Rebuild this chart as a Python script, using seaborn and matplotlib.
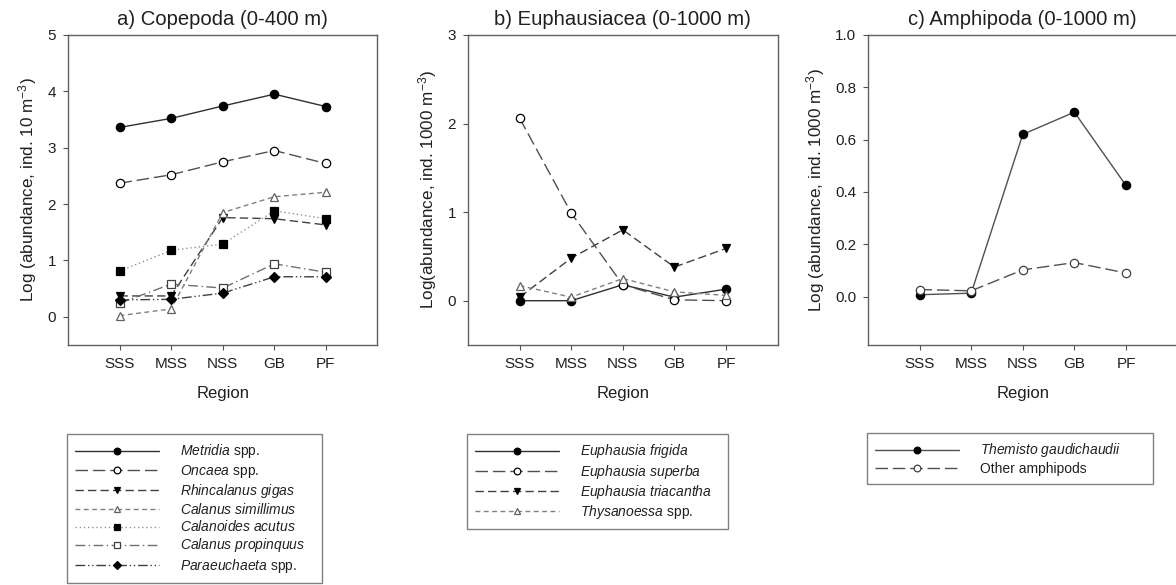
import numpy as np
import pandas as pd
import matplotlib
matplotlib.use("Agg")
import matplotlib.pyplot as plt
import seaborn as sns

# ---------------- data ----------------
regions = ["SSS", "MSS", "NSS", "GB", "PF"]

# a) Copepoda (0-400 m)
metridia = [3.36, 3.52, 3.74, 3.95, 3.73]
oncaea = [2.37, 2.52, 2.75, 2.95, 2.72]
rhincalanus = [0.37, 0.37, 1.76, 1.74, 1.63]
calanus_simillimus = [0.02, 0.14, 1.85, 2.13, 2.21]
calanoides = [0.81, 1.18, 1.29, 1.88, 1.74]
calanus_propinquus = [0.24, 0.58, 0.51, 0.94, 0.79]
paraeuchaeta = [0.30, 0.31, 0.42, 0.71, 0.71]

# b) Euphausiacea (0-1000 m)
e_frigida = [0.00, 0.00, 0.18, 0.04, 0.13]
e_superba = [2.06, 0.99, 0.18, 0.01, 0.00]
e_triacantha = [0.04, 0.48, 0.80, 0.38, 0.59]
thysanoessa = [0.17, 0.04, 0.25, 0.10, 0.06]

# c) Amphipoda (0-1000 m)
themisto = [0.007, 0.013, 0.62, 0.705, 0.425]
other_amph = [0.027, 0.022, 0.102, 0.13, 0.09]

titles = ["a) Copepoda (0-400 m)", "b) Euphausiacea (0-1000 m)", "c) Amphipoda (0-1000 m)"]
ylabels = [r"Log (abundance, ind. 10 m$^{-3}$)",
           r"Log(abundance, ind. 1000 m$^{-3}$)",
           r"Log (abundance, ind. 1000 m$^{-3}$)"]

# ---------------- style ----------------
sns.set_theme(style="white")
plt.rcParams["font.family"] = ["Liberation Sans", "DejaVu Sans"]
plt.rcParams["mathtext.fontset"] = "custom"
plt.rcParams["mathtext.rm"] = "Liberation Sans"
plt.rcParams["mathtext.it"] = "Liberation Sans:italic"
plt.rcParams["mathtext.default"] = "rm"

fig = plt.figure(figsize=(11.76, 5.85), dpi=100)
fig.patch.set_facecolor("white")

axw, axh = 0.2632, 0.5299
bottom = 0.4103
lefts = [0.0578, 0.398, 0.7381]
axes = [fig.add_axes([l, bottom, axw, axh]) for l in lefts]

LONG = (0, (9, 3.5))
MED = (0, (6, 3))
SHORT = (0, (3.5, 2.5))
DOT = (0, (1, 2))
DASHDOT = (0, (7, 2.5, 1, 2.5))
DASHDOTDOT = (0, (7, 2, 1, 2, 1, 2))


def draw(ax, values, label, ls, marker, mfc, color="#404040", mec="black", ms=6):
    df = pd.DataFrame({"Region": regions, "val": values})
    sns.lineplot(data=df, x="Region", y="val", ax=ax, sort=False, label=label,
                 color=color, linestyle=ls, linewidth=1.0, marker=marker,
                 markersize=ms, markerfacecolor=mfc, markeredgecolor=mec,
                 markeredgewidth=0.9)


ax = axes[0]
draw(ax, metridia, r"$\it{Metridia}$ spp.", "-", "o", "black", color="#303030")
draw(ax, oncaea, r"$\it{Oncaea}$ spp.", LONG, "o", "white", color="#505050")
draw(ax, rhincalanus, r"$\it{Rhincalanus\ gigas}$", MED, "v", "black", color="#404040")
draw(ax, calanus_simillimus, r"$\it{Calanus\ simillimus}$", SHORT, "^", "white", color="#808080", mec="#606060")
draw(ax, calanoides, r"$\it{Calanoides\ acutus}$", DOT, "s", "black", color="#9090a0")
draw(ax, calanus_propinquus, r"$\it{Calanus\ propinquus}$", DASHDOT, "s", "white", color="#707070", mec="#404040")
draw(ax, paraeuchaeta, r"$\it{Paraeuchaeta}$ spp.", DASHDOTDOT, "D", "black", color="#404040", ms=5.5)

ax = axes[1]
draw(ax, e_frigida, r"$\it{Euphausia\ frigida}$", "-", "o", "black", color="#303030")
draw(ax, e_superba, r"$\it{Euphausia\ superba}$", LONG, "o", "white", color="#505050")
draw(ax, e_triacantha, r"$\it{Euphausia\ triacantha}$", MED, "v", "black", color="#404040")
draw(ax, thysanoessa, r"$\it{Thysanoessa}$ spp.", SHORT, "^", "white", color="#808080", mec="#606060")

ax = axes[2]
draw(ax, themisto, r"$\it{Themisto\ gaudichaudii}$", "-", "o", "black", color="#505050")
draw(ax, other_amph, "Other amphipods", LONG, "o", "white", color="#505050", mec="#404040")

ylims = [(-0.5, 5), (-0.5, 3), (-0.185, 1.0)]
yticks = [np.arange(0, 6, 1), np.arange(0, 4, 1), np.arange(0, 1.01, 0.2)]
yfmt = ["{:.0f}", "{:.0f}", "{:.1f}"]

for i, ax in enumerate(axes):
    ax.set_facecolor("white")
    ax.set_xlim(-1, 5)
    ax.set_ylim(*ylims[i])
    ax.set_yticks(yticks[i])
    ax.set_yticklabels([yfmt[i].format(v) for v in yticks[i]])
    ax.set_xticks(range(len(regions)))
    ax.set_xticklabels(regions)
    ax.set_title(titles[i], fontsize=14.6, pad=7, color="#202020")
    ax.set_xlabel("Region", fontsize=12, labelpad=11, color="#202020")
    ax.set_ylabel(ylabels[i], fontsize=12.3, labelpad=6, color="#202020")
    ax.tick_params(axis="both", which="major", direction="out", length=3.5,
                   width=0.8, color="#505050", labelsize=11, pad=5,
                   labelcolor="#202020", bottom=True, left=True)
    for s in ax.spines.values():
        s.set_color("#606060")
        s.set_linewidth(1.0)
    if ax.get_legend() is not None:
        ax.get_legend().remove()

# legends below each panel
leg_boxes = [(67, 434, 255, 149), (467, 434, 261, 93), (867, 433, 286, 63)]
W, H = 1176, 585
for ax, (x0, y0, w, h) in zip(axes, leg_boxes):
    handles, labels = ax.get_legend_handles_labels()
    leg = ax.legend(handles, labels, loc="upper left",
                    bbox_to_anchor=(x0 / W, 1 - y0 / H, w / W, 0),
                    bbox_transform=fig.transFigure, mode="expand",
                    fontsize=10, handlelength=6.0, handletextpad=1.5,
                    labelspacing=0.16, borderpad=0.6, borderaxespad=0,
                    handleheight=0.6, markerscale=0.8,
                    fancybox=False, frameon=True, numpoints=1)
    fr = leg.get_frame()
    fr.set_edgecolor("#606060")
    fr.set_linewidth(1.0)
    for t in leg.get_texts():
        t.set_color("#202020")

fig.savefig("out.png", dpi=100, facecolor="white")
